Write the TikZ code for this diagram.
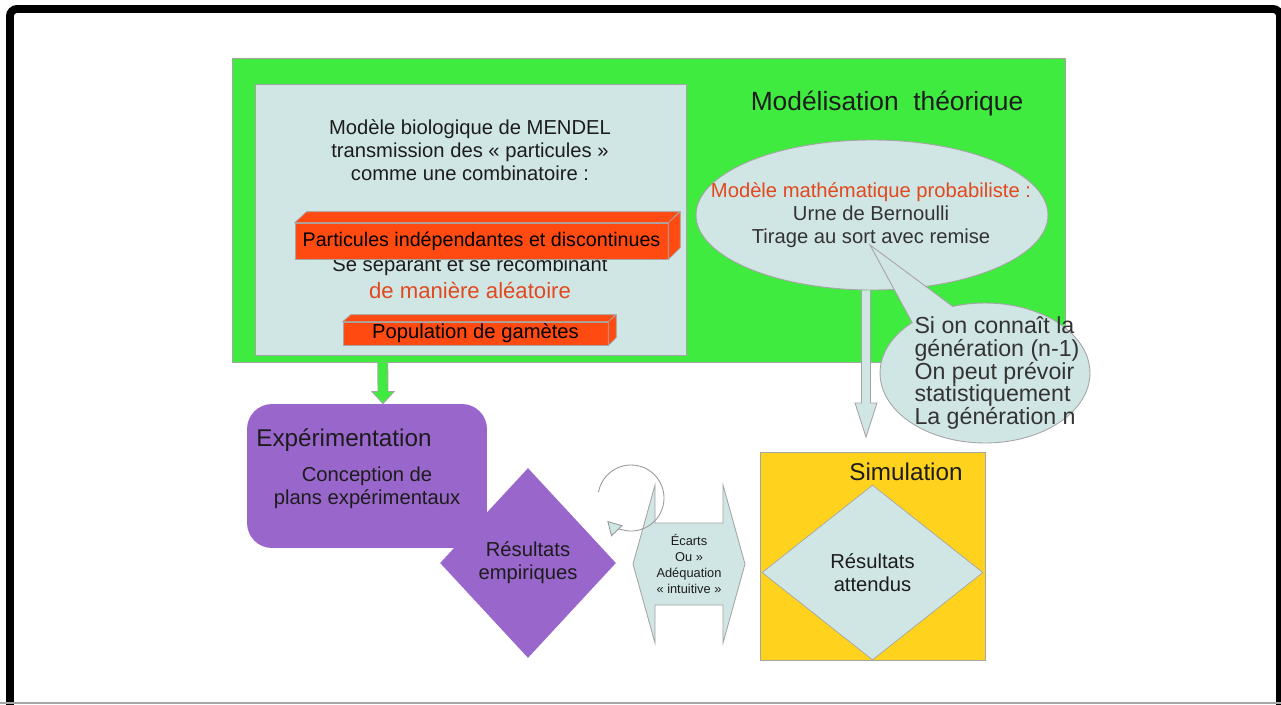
\documentclass[tikz,border=0pt]{standalone}
\usepackage{fontspec}
\setmainfont{Liberation Sans}
\usetikzlibrary{shapes.geometric,shapes.callouts,arrows.meta,calc}

\definecolor{theogreen}{RGB}{64,235,64}
\definecolor{paleblue}{RGB}{208,230,228}
\definecolor{barorange}{RGB}{255,74,18}
\definecolor{expurple}{RGB}{153,102,204}
\definecolor{simyellow}{RGB}{255,210,30}
\definecolor{edgegray}{RGB}{165,165,165}
\definecolor{redtext}{RGB}{226,72,30}
\definecolor{inkgray}{RGB}{28,28,28}

\tikzset{
  txt/.style={font=\fontsize{11.5}{13}\selectfont, text=inkgray, align=center, inner sep=0pt},
  bigtxt/.style={font=\fontsize{13.8}{16}\selectfont, text=inkgray, inner sep=0pt},
  bar/.style={fill=barorange, draw=edgegray, line width=0.4pt},
  fatarrow/.style={draw=edgegray, line width=0.5pt}
}

\begin{document}
\begin{tikzpicture}[x=0.02cm,y=-0.02cm]
		\useasboundingbox (0,0) rectangle (1281,704);
		% frame
		\draw[line width=4.5pt, rounded corners=4pt] (10,712) -- (10,9) -- (1280,9) -- (1280,712);
		\draw[gray!70, line width=1pt] (0,703) -- (1281,703);

		% theoretical part
		\node[fill=theogreen, draw=edgegray, line width=0.4pt, minimum width=16.66cm, minimum height=6.08cm] (theo) at (648.5,210) {};
		\node[fill=paleblue, draw=edgegray, line width=0.5pt, minimum width=8.62cm, minimum height=5.42cm] (mendelbox) at (470.5,219.5) {};
		\node[bigtxt, font=\fontsize{15}{17}\selectfont] (theotitle) at (887,104) {Modélisation\ \ théorique};

		\begin{scope}[every node/.style={txt}]
			\node (mendel) at (470,150) {Modèle biologique de MENDEL\\transmission des « particules »\\comme une combinatoire :};
			\node (separ) at (470,266) {Se séparant et se recombinant};
			\node[font=\fontsize{12.6}{14}\selectfont, text=redtext] (alea) at (470,290) {de manière aléatoire};
		\end{scope}

		% orange bars
		\node[bar, txt, font=\fontsize{11.2}{13}\selectfont, text=black, minimum width=7.46cm, minimum height=0.72cm] (part) at (481.5,241) {Particules indépendantes et discontinues};
		\draw[bar] (part.north west) -- ++(12,-11) -- ++(373,0) -- (part.north east) -- cycle;
		\draw[bar] (part.north east) -- ++(12,-11) -- ++(0,36) -- (part.south east) -- cycle;
		\node[bar, txt, text=black, minimum width=5.3cm, minimum height=0.46cm] (gamet) at (475.5,333.5) {Population de gamètes};
		\draw[bar] (gamet.north west) -- ++(8,-7) -- ++(265,0) -- (gamet.north east) -- cycle;
		\draw[bar] (gamet.north east) -- ++(8,-7) -- ++(0,23) -- (gamet.south east) -- cycle;

		% probabilistic model
		\node[ellipse, fill=paleblue, draw=edgegray, line width=0.5pt, minimum width=7.04cm, minimum height=3cm] (proba) at (872,215) {};
		\node[txt, text=inkgray!90] (probatext) at (871,215)
			{\textcolor{redtext}{Modèle mathématique probabiliste :}\\Urne de Bernoulli\\Tirage au sort avec remise};
		\coordinate (tip) at (870,245);
		\node[ellipse callout, fill=paleblue, draw=edgegray, line width=0.5pt, minimum width=4.2cm, minimum height=2.8cm,
			callout absolute pointer=(tip), callout pointer arc=26] (gen) at (985,373) {};
		\node[txt, align=left, font=\fontsize{13.2}{13}\selectfont, text=inkgray!90] (gentext) at (997,373)
			{Si on connaît la\\génération (n-1)\\On peut prévoir\\statistiquement\\La génération n};

		% experimentation
		\node[fill=expurple, rounded corners=0.5cm, minimum width=4.8cm, minimum height=2.88cm] (expe) at (367,476) {};
		\node[bigtxt, anchor=west] (expetitle) at (256,440) {Expérimentation};
		\node[txt] (plans) at (367,488) {Conception de\\plans expérimentaux};
		\node[diamond, fill=expurple, minimum width=3.52cm, minimum height=3.8cm, inner sep=0pt, txt] (empir) at (528,563) {Résultats\\empiriques};

		% simulation
		\node[fill=simyellow, draw=edgegray, line width=0.4pt, minimum width=4.5cm, minimum height=4.16cm] (sim) at (872.5,556) {};
		\node[bigtxt] (simtitle) at (906,472) {Simulation};
		\node[diamond, fill=paleblue, draw=edgegray, line width=0.4pt, minimum width=4.42cm, minimum height=3.5cm, inner sep=0pt, txt] (attendu) at (872.5,572.5) {Résultats\\attendus};

		% comparison
		\coordinate (ecartmid) at (689,564);
		\filldraw[fill=paleblue, draw=edgegray, line width=0.5pt] (ecartmid) ++(-56,0) -- ++(22,-79) -- ++(0,38) -- ++(68,0) -- ++(0,-38) -- ++(22,79) -- ++(-22,79) -- ++(0,-38) -- ++(-68,0) -- ++(0,38) -- cycle;
		\node[txt, font=\fontsize{7.3}{9}\selectfont] (ecart) at (ecartmid) {Écarts\\Ou »\\Adéquation\\« intuitive »};
		\coordinate (loop) at (631,498);
		\draw[gray!80, line width=0.5pt, -{Triangle[open, fill=paleblue, length=8pt, width=9pt]}] (loop) ++(-170:33) arc[start angle=-170, end angle=136, radius=33];

		% arrows
		\coordinate (gs) at ($(theo.south west)+(151,0)$);
		\coordinate (gt) at ($(expe.north)+(16,0)$);
		\filldraw[fatarrow, fill=theogreen] ($(gs)+(-5,0)$) -- ($(gt)+(-5,-12)$) -- ($(gt)+(-11,-12)$) -- (gt) -- ($(gt)+(11,-12)$) -- ($(gt)+(5,-12)$) -- ($(gs)+(5,0)$);
		\coordinate (ps) at ($(proba.south)+(-6,0)$);
		\coordinate (pt) at (866,437);
		\filldraw[fatarrow, fill=paleblue] ($(ps)+(-4.5,0)$) -- ($(pt)+(-4.5,-34)$) -- ($(pt)+(-11,-34)$) -- (pt) -- ($(pt)+(11,-34)$) -- ($(pt)+(4.5,-34)$) -- ($(ps)+(4.5,0)$);
	\end{tikzpicture}
\end{document}
